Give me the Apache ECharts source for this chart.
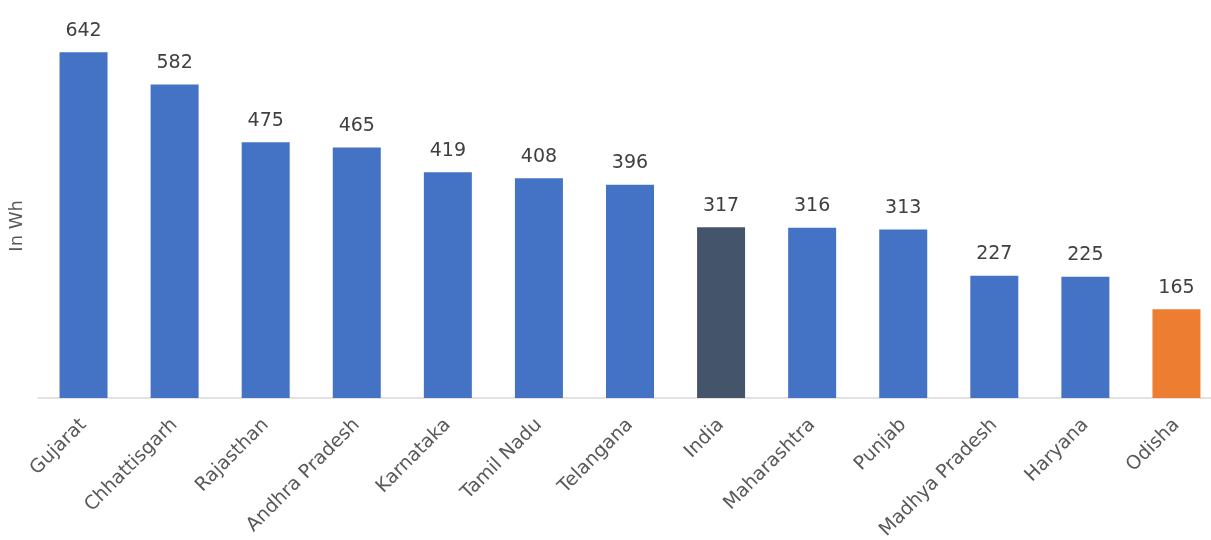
<!DOCTYPE html>
<html><head><meta charset="utf-8">
<script src="https://cdn.jsdelivr.net/npm/echarts@6/dist/echarts.min.js"></script>
<style>html,body{margin:0;padding:0;background:#fff}#c{width:1211px;height:540px}</style>
</head><body><div id="c"></div>
<script>
const categories = ["Gujarat","Chhattisgarh","Rajasthan","Andhra Pradesh","Karnataka","Tamil Nadu","Telangana","India","Maharashtra","Punjab","Madhya Pradesh","Haryana","Odisha"];
const values = [642,582,475,465,419,408,396,317,316,313,227,225,165];
const colors = ["#4472C4","#4472C4","#4472C4","#4472C4","#4472C4","#4472C4","#4472C4","#44546A","#4472C4","#4472C4","#4472C4","#4472C4","#ED7D31"];
const yName = "In Wh";
const FONT = "DejaVu Sans";
const chart = echarts.init(document.getElementById('c'));
chart.setOption({
  animation:false,
  textStyle:{fontFamily:FONT},
  grid:{left:38,right:-11,top:21,bottom:142,containLabel:false,outerBoundsMode:'none'},
  xAxis:{type:'category',data:categories,
    axisLine:{lineStyle:{color:'#D9D9D9',width:1.5}},
    axisTick:{show:false},
    axisLabel:{rotate:45,interval:0,color:'#595959',fontSize:19,fontFamily:FONT,margin:24}},
  yAxis:{type:'value',min:0,max:700,show:false},
  graphic:[{type:'text',left:8,top:200,rotation:Math.PI/2,
    style:{text:yName,fill:'#595959',fontSize:18,fontFamily:FONT}}],
  series:[{type:'bar',barWidth:48,
    data:values.map((v,i)=>({value:v,itemStyle:{color:colors[i]}})),
    label:{show:true,position:'top',distance:12,color:'#404040',fontSize:19,fontFamily:FONT}}]
});
</script></body></html>
